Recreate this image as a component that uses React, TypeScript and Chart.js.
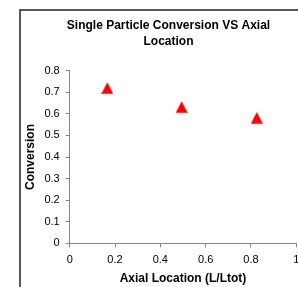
import React, { useEffect, useRef } from "react";
import { Chart, registerables } from "chart.js";

Chart.register(...registerables);

const titleLines = ["Single Particle Conversion VS Axial", "Location"];
const xAxisTitle = "Axial Location (L/Ltot)";
const yAxisTitle = "Conversion";
const xValues = [0.166, 0.494, 0.826];
const conversion = [0.72, 0.632, 0.582];
const xTickLabels = ["0", "0.2", "0.4", "0.6", "0.8", "1"];
const yTickLabels = ["0", "0.1", "0.2", "0.3", "0.4", "0.5", "0.6", "0.7", "0.8"];

const FONT = 'Arial, "Liberation Sans", sans-serif';
const AXIS_GRAY = "#868686";

function makeTriangle(): HTMLCanvasElement {
  const c = document.createElement("canvas");
  c.width = 12;
  c.height = 12;
  const g = c.getContext("2d")!;
  g.fillStyle = "#ff0000";
  g.beginPath();
  g.moveTo(6, 0.3);
  g.lineTo(12, 11.7);
  g.lineTo(0, 11.7);
  g.closePath();
  g.fill();
  return c;
}

const framePlugin = {
  id: "frame",
  beforeDraw(chart: any) {
    const ctx = chart.ctx;
    ctx.save();
    ctx.strokeStyle = "#222";
    ctx.lineWidth = 1.5;
    ctx.strokeRect(20, 10, 297, 300);
    ctx.restore();
  },
};

export default function App() {
  const ref = useRef<HTMLCanvasElement>(null);
  useEffect(() => {
    const canvas = ref.current!;
    const tri = makeTriangle();
    const chart = new Chart(canvas, {
      type: "scatter",
      data: {
        datasets: [
          {
            data: xValues.map((x, i) => ({ x, y: conversion[i] })),
            pointStyle: tri as any,
            backgroundColor: "#ff0000",
            borderColor: "#ff0000",
          },
        ],
      },
      plugins: [framePlugin],
      options: {
        animation: false,
        responsive: false,
        devicePixelRatio: 1,
        layout: { padding: { left: 20, right: 20, top: 10, bottom: 14.4 } },
        plugins: {
          legend: { display: false },
          tooltip: { enabled: false },
          title: {
            display: true,
            text: titleLines,
            color: "#000",
            font: { family: FONT, size: 12, weight: "bold", lineHeight: 1.3017 },
            padding: { top: 8.2, bottom: 21.26 },
          },
        },
        scales: {
          x: {
            type: "linear",
            min: 0,
            max: 1,
            afterFit: (s: any) => {
              s.height = 42.3;
            },
            ticks: {
              stepSize: 0.2,
              color: "#000",
              padding: 6,
              maxRotation: 0,
              font: { family: FONT, size: 11 },
              callback: (_v: any, i: number) => xTickLabels[i],
            },
            grid: { drawOnChartArea: false, drawTicks: true, tickLength: 4, color: AXIS_GRAY },
            border: { display: true, color: AXIS_GRAY, width: 1 },
            title: {
              display: true,
              text: xAxisTitle,
              color: "#000",
              font: { family: FONT, size: 12, weight: "bold" },
              padding: { top: 0, bottom: -0.6 },
            },
          },
          y: {
            type: "linear",
            min: 0,
            max: 0.8,
            afterFit: (s: any) => {
              s.width = 49.7;
            },
            ticks: {
              stepSize: 0.1,
              color: "#000",
              padding: 6,
              font: { family: FONT, size: 11 },
              callback: (_v: any, i: number) => yTickLabels[i],
            },
            grid: { drawOnChartArea: false, drawTicks: true, tickLength: 4, color: AXIS_GRAY },
            border: { display: true, color: AXIS_GRAY, width: 1 },
            title: {
              display: true,
              text: yAxisTitle,
              color: "#000",
              font: { family: FONT, size: 12, weight: "bold" },
              padding: { top: 3.8, bottom: 0 },
            },
          },
          y2: {
            type: "linear",
            position: "right",
            display: true,
            afterFit: (s: any) => {
              s.width = 20.7;
            },
            ticks: { display: false },
            grid: { display: false },
            border: { display: false },
          },
        },
      },
    });
    return () => chart.destroy();
  }, []);
  return (
    <div
      style={{
        position: "fixed",
        left: 0,
        top: 0,
        width: 298,
        height: 287,
        overflow: "hidden",
        background: "#fff",
      }}
    >
      <canvas ref={ref} width={337} height={300} style={{ width: 337, height: 300, display: "block" }} />
    </div>
  );
}
